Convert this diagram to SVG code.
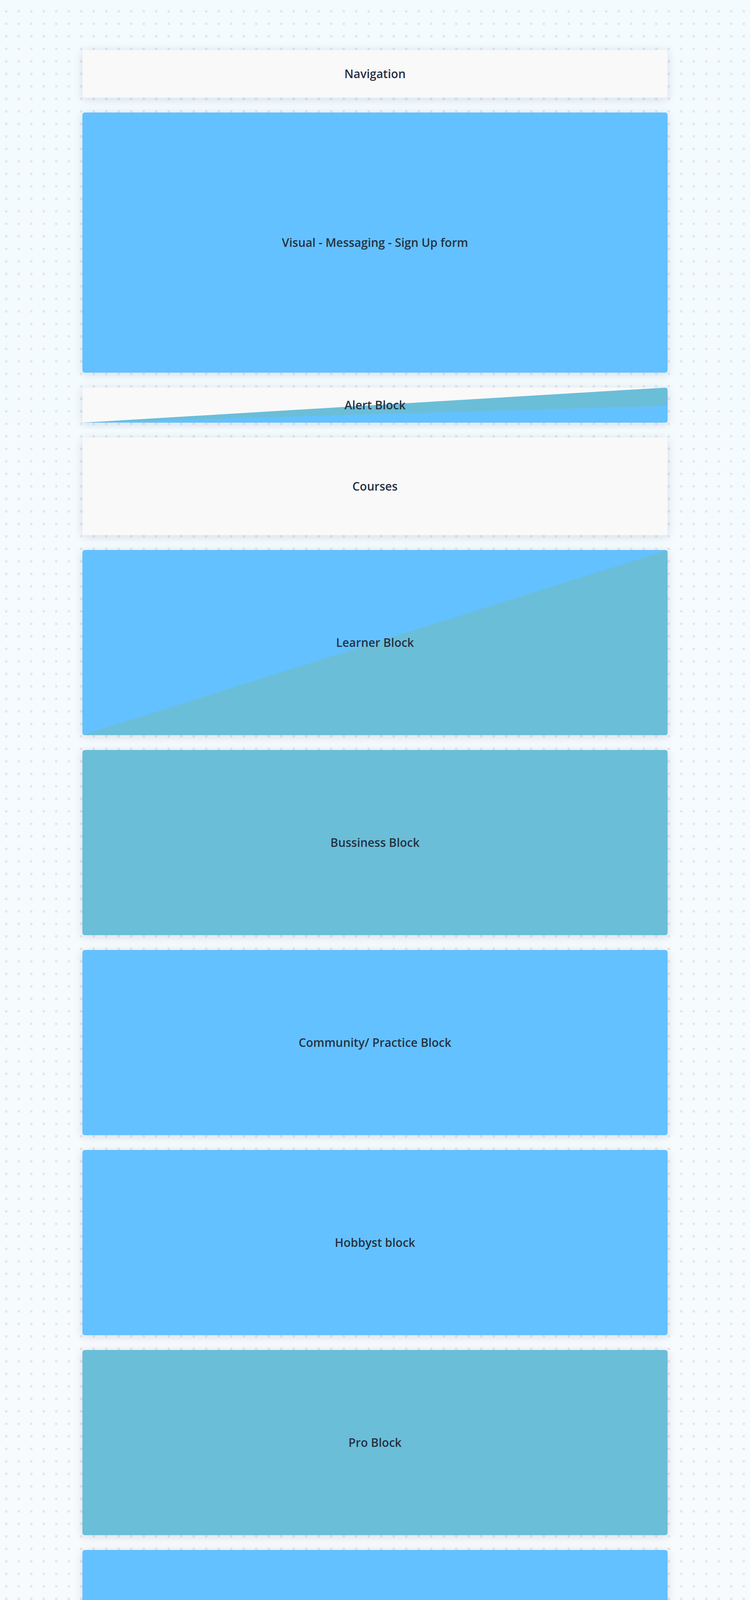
<svg xmlns="http://www.w3.org/2000/svg" width="1920" height="5369" viewBox="0 0 1920 5369">
  <defs>
    <linearGradient id="bg" x1="0" y1="0" x2="0" y2="1">
      <stop offset="0" stop-color="#f3fbfe"/>
      <stop offset="1" stop-color="#f9fbfd"/>
    </linearGradient>
    <pattern id="dots" patternUnits="userSpaceOnUse" width="32" height="32">
      <rect x="13" y="26" width="6" height="6" fill="#e3e7eb"/>
    </pattern>
    <filter id="shadow" x="-5%" y="-20%" width="110%" height="140%">
      <feDropShadow dx="0" dy="4" stdDeviation="11" flood-color="#1e3250" flood-opacity="0.14"/>
    </filter>
    <clipPath id="clipAlert">
      <rect x="211" y="992" width="1498" height="90" rx="6"/>
    </clipPath>
    <clipPath id="clipLearner">
      <rect x="211" y="1408" width="1498" height="474" rx="6"/>
    </clipPath>
  </defs>
  <style>
    .box { filter: url(#shadow); }
    .light { fill: #f9f9f9; }
    .blue { fill: #64c1ff; }
    .teal { fill: #6bbed8; }
    .label { font-family: "Open Sans", "Noto Sans", "Liberation Sans", sans-serif; font-size: 30px; font-weight: 600; fill: #263142; text-anchor: middle; }
  </style>

  <rect x="0" y="0" width="1920" height="5369" fill="url(#bg)"/>
  <rect x="0" y="0" width="1920" height="5369" fill="url(#dots)"/>

  <g id="connectors"/>

  <g id="navigation">
    <rect class="box light" x="211" y="128" width="1498" height="122" rx="6"/>
    <text class="label" x="960" y="199.5">Navigation</text>
  </g>

  <g id="visual">
    <rect class="box blue" x="211" y="288" width="1498" height="666" rx="6"/>
    <text class="label" x="960" y="631.5">Visual - Messaging - Sign Up form</text>
  </g>

  <g id="alert">
    <rect class="box light" x="211" y="992" width="1498" height="90" rx="6"/>
    <g clip-path="url(#clipAlert)">
      <polygon class="teal" points="211,1082 1709,992 1709,1082"/>
      <polygon class="blue" points="211,1082 1709,1039 1709,1082"/>
    </g>
    <text class="label" x="960" y="1047.5">Alert Block</text>
  </g>

  <g id="courses">
    <rect class="box light" x="211" y="1120" width="1498" height="250" rx="6"/>
    <text class="label" x="960" y="1255.5">Courses</text>
  </g>

  <g id="learner">
    <rect class="box blue" x="211" y="1408" width="1498" height="474" rx="6"/>
    <g clip-path="url(#clipLearner)">
      <polygon class="teal" points="211,1882 1709,1408 1709,1882"/>
    </g>
    <text class="label" x="960" y="1655.5">Learner Block</text>
  </g>

  <g id="bussiness">
    <rect class="box teal" x="211" y="1920" width="1498" height="474" rx="6"/>
    <text class="label" x="960" y="2167.5">Bussiness Block</text>
  </g>

  <g id="community">
    <rect class="box blue" x="211" y="2432" width="1498" height="474" rx="6"/>
    <text class="label" x="960" y="2679.5">Community/ Practice Block</text>
  </g>

  <g id="hobbyst">
    <rect class="box blue" x="211" y="2944" width="1498" height="474" rx="6"/>
    <text class="label" x="960" y="3191.5">Hobbyst block</text>
  </g>

  <g id="pro">
    <rect class="box teal" x="211" y="3456" width="1498" height="474" rx="6"/>
    <text class="label" x="960" y="3703.5">Pro Block</text>
  </g>

  <g id="signup">
    <rect class="box blue" x="211" y="3968" width="1498" height="474" rx="6"/>
    <text class="label" x="960" y="4215.5">Sign Up form</text>
  </g>

  <g id="footer">
    <rect class="box light" x="211" y="4480" width="1498" height="666" rx="6"/>
    <text class="label" x="960" y="4823.5">Footer</text>
  </g>
</svg>
